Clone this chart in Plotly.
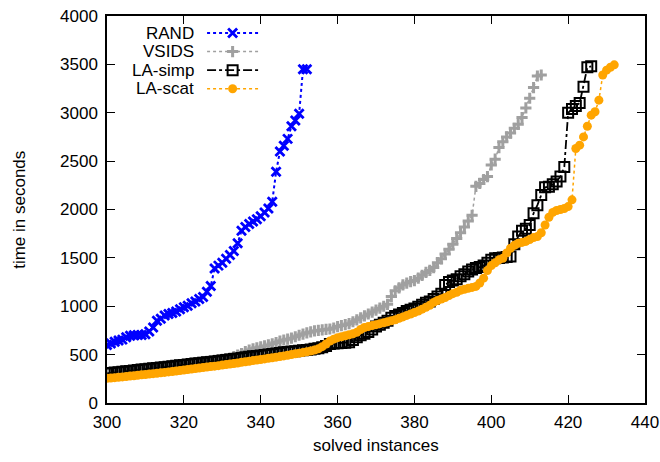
import plotly.graph_objects as go

# ---------------- data ----------------
rand_x = list(range(300, 353))
rand_y = [600, 615, 632, 645, 655, 680, 695, 700, 702, 702,
          710, 740, 780, 850, 870, 905, 920, 930, 945, 970,
          990, 1005, 1030, 1050, 1075, 1095, 1150, 1210, 1390, 1420,
          1450, 1490, 1530, 1570, 1650, 1780, 1820, 1850, 1875, 1900,
          1930, 1970, 2010, 2080, 2390, 2600, 2660, 2730, 2860, 2920,
          2990, 3450, 3450]

vsids_x = list(range(300, 414))
vsids_y = [300, 305, 310, 315, 320, 325, 330, 335, 340, 345,
           350, 355, 360, 365, 370, 375, 380, 385, 390, 395,
           400, 405, 410, 415, 420, 425, 430, 435, 440, 445,
           452, 458, 465, 480, 495, 510, 530, 548, 560, 570,
           580, 590, 600, 612, 625, 640, 651, 660, 670, 685,
           700, 712, 725, 735, 745, 750, 755, 760, 765, 775,
           790, 800, 810, 820, 840, 860, 880, 900, 920, 940,
           960, 980, 1000, 1020, 1100, 1160, 1190, 1220, 1240, 1255,
           1265, 1290, 1320, 1350, 1370, 1400, 1450, 1490, 1540, 1590,
           1640, 1700, 1760, 1820, 1880, 1940, 2240, 2270, 2310, 2340,
           2460, 2520, 2640, 2700, 2750, 2790, 2840, 2880, 2950, 3050,
           3150, 3260, 3380, 3390]

simp_x = list(range(300, 427))
simp_y = [306, 310, 314, 318, 322, 327, 331, 336, 340, 345,
          349, 353, 358, 362, 366, 370, 375, 379, 384, 389,
          393, 398, 403, 407, 412, 416, 421, 425, 430, 434,
          440, 445, 450, 455, 460, 466, 472, 477, 482, 487,
          492, 497, 502, 507, 512, 518, 524, 528, 532, 536,
          540, 544, 548, 553, 560, 567, 575, 590, 610, 615,
          618, 620, 622, 628, 650, 680, 700, 715, 735, 760,
          790, 810, 830, 850, 880, 900, 915, 930, 950, 965,
          978, 995, 1015, 1035, 1050, 1075, 1100, 1130, 1220, 1250,
          1265, 1280, 1310, 1330, 1360, 1380, 1395, 1405, 1420, 1450,
          1480, 1495, 1500, 1505, 1510, 1515, 1640, 1720, 1780, 1800,
          1840, 1960, 2045, 2150, 2230, 2235, 2260, 2290, 2340, 2440,
          3000, 3040, 3070, 3100, 3270, 3470, 3480]

scat_x = list(range(300, 433))
scat_y = [255, 258, 262, 266, 270, 274, 278, 282, 287, 291,
          295, 299, 303, 307, 312, 316, 321, 326, 331, 336,
          341, 346, 351, 356, 361, 366, 371, 376, 381, 386,
          392, 397, 402, 408, 414, 420, 426, 432, 438, 444,
          450, 456, 462, 468, 474, 480, 487, 494, 501, 508,
          515, 522, 530, 538, 548, 560, 582, 610, 640, 660,
          675, 685, 695, 705, 715, 730, 760, 780, 790, 800,
          810, 820, 830, 840, 850, 860, 875, 890, 905, 920,
          935, 950, 970, 990, 1010, 1040, 1060, 1075, 1090, 1110,
          1130, 1145, 1165, 1175, 1185, 1195, 1205, 1240, 1290, 1370,
          1420, 1450, 1480, 1495, 1550, 1600, 1630, 1650, 1660, 1670,
          1690, 1710, 1720, 1760, 1840, 1920, 1970, 1990, 2000, 2010,
          2030, 2100, 2630, 2665, 2750, 2860, 2975, 3010, 3130, 3390,
          3440, 3470, 3495]

x_ticks = [300, 320, 340, 360, 380, 400, 420, 440]
y_ticks = [0, 500, 1000, 1500, 2000, 2500, 3000, 3500, 4000]

series_names = ["RAND", "VSIDS", "LA-simp", "LA-scat"]

# ---------------- styles ----------------
styles = {
    "RAND": dict(line=dict(color="#0000ff", width=2, dash="dot"),
                 marker=dict(symbol="x-thin", size=9, line=dict(color="#0000ff", width=2.8))),
    "VSIDS": dict(line=dict(color="#a0a0a0", width=1.5, dash="dot"),
                  marker=dict(symbol="cross-thin", size=8, line=dict(color="#a0a0a0", width=3))),
    "LA-simp": dict(line=dict(color="#000000", width=1.8, dash="dashdot"),
                    marker=dict(symbol="square-open", size=10, color="#000000",
                                line=dict(color="#000000", width=2))),
    "LA-scat": dict(line=dict(color="#ffa500", width=1.5, dash="dot"),
                    marker=dict(symbol="circle", size=9, color="#ffa500", line=dict(width=0))),
}

data = {
    "RAND": (rand_x, rand_y),
    "VSIDS": (vsids_x, vsids_y),
    "LA-simp": (simp_x, simp_y),
    "LA-scat": (scat_x, scat_y),
}

FONT = "Liberation Sans, Arial, sans-serif"
FS = 17

fig = go.Figure()
for name in series_names:
    xs, ys = data[name]
    fig.add_trace(go.Scatter(x=xs, y=ys, mode="lines+markers", name=name,
                             showlegend=False, cliponaxis=True, **styles[name]))

# ---------------- gnuplot-style legend (text left, sample right) ----------------
leg_rows = [0.956, 0.908, 0.860, 0.812]
for name, yy in zip(series_names, leg_rows):
    st = styles[name]
    fig.add_trace(go.Scatter(x=[0.186, 0.281], y=[yy, yy], mode="lines",
                             line=st["line"], xaxis="x2", yaxis="y2",
                             showlegend=False, hoverinfo="skip"))
    fig.add_trace(go.Scatter(x=[0.2335], y=[yy], mode="markers",
                             marker=st["marker"], xaxis="x2", yaxis="y2",
                             showlegend=False, hoverinfo="skip"))
    fig.add_annotation(text=name, xref="paper", yref="paper", x=0.166, y=yy,
                       xanchor="right", yanchor="middle", showarrow=False,
                       font=dict(size=FS, color="#000000", family=FONT))

# axis titles as annotations for exact placement
fig.add_annotation(text="solved instances", xref="paper", yref="paper",
                   x=0.5, y=-0.111, xanchor="center", yanchor="middle",
                   showarrow=False, font=dict(size=FS, color="#000000", family=FONT))
fig.add_annotation(text="time in seconds", xref="paper", yref="paper",
                   x=-0.163, y=0.5, xanchor="center", yanchor="middle", textangle=-90,
                   showarrow=False, font=dict(size=FS, color="#000000", family=FONT))

axis_common = dict(showgrid=False, zeroline=False, showline=True, linecolor="#000000",
                   linewidth=1.5, mirror="ticks", ticks="inside", ticklen=8,
                   tickwidth=1.2, tickcolor="#000000", automargin=False,
                   ticklabeloverflow="allow",
                   tickfont=dict(size=FS, color="#000000", family=FONT))

fig.update_layout(
    width=660, height=462,
    margin=dict(l=107, r=15, t=16, b=59),
    paper_bgcolor="white", plot_bgcolor="white",
    font=dict(family=FONT, size=FS, color="#000000"),
    xaxis=dict(range=[300, 440], tickvals=x_ticks, ticklabelstandoff=3, **axis_common),
    yaxis=dict(range=[0, 4000], tickvals=y_ticks, ticklabelstandoff=4, **axis_common),
    xaxis2=dict(overlaying="x", range=[0, 1], visible=False),
    yaxis2=dict(overlaying="y", range=[0, 1], visible=False),
)

fig.write_html("out.html", config={"displayModeBar": False},
               post_script="document.body.style.margin='0';")
